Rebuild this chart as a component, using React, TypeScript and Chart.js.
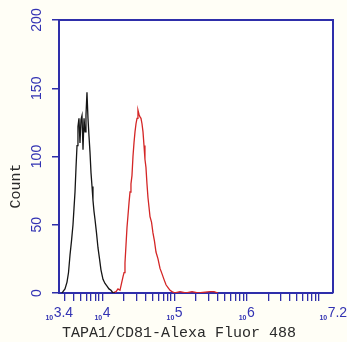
import React, { useEffect, useRef } from "react";
import { Chart, registerables } from "chart.js";

Chart.register(...registerables);

// Log10 fluorescence (channel position) and event counts
const isotypeLog = [3.44, 3.455, 3.483, 3.511, 3.532, 3.553, 3.573, 3.594, 3.608, 3.622, 3.636, 3.65, 3.663, 3.677, 3.691, 3.705, 3.719, 3.733, 3.747, 3.761, 3.774, 3.788, 3.802, 3.816, 3.83, 3.844, 3.858, 3.871, 3.885, 3.899, 3.92, 3.941, 3.962, 3.982, 4.01, 4.038, 4.066, 4.093, 4.121, 4.149, 4.177];
const isotypeCount = [0, 1, 3, 8, 15, 28, 38, 50, 62, 74, 92, 108, 122, 128, 110, 127, 130, 105, 128, 118, 130, 147, 128, 115, 103, 88, 78, 68, 60, 54, 44, 33, 25, 17, 10, 7, 5, 3, 2, 0, 0];

const sampleLog = [4.135, 4.191, 4.218, 4.246, 4.267, 4.288, 4.302, 4.315, 4.329, 4.343, 4.357, 4.371, 4.385, 4.398, 4.412, 4.426, 4.44, 4.454, 4.468, 4.482, 4.495, 4.509, 4.523, 4.537, 4.551, 4.565, 4.579, 4.592, 4.606, 4.62, 4.634, 4.648, 4.662, 4.683, 4.703, 4.724, 4.745, 4.773, 4.801, 4.829, 4.856, 4.884, 4.912, 4.94, 4.967, 5.009, 5.078, 5.161, 5.245, 5.328, 5.494, 5.55, 5.605];
const sampleCount = [0, 1, 3, 2, 7, 12, 15, 22, 35, 48, 57, 66, 74, 80, 86, 100, 110, 118, 124, 128, 134, 131, 129, 128, 124, 118, 108, 98, 92, 80, 70, 63, 56, 52, 44, 38, 30, 25, 18, 14, 10, 6, 4, 2, 1, 0, 1, 0, 1, 0, 1, 1, 0];

const yTickValues = [0, 50, 100, 150, 200];
const xLabelExponents = ["3.4", "4", "5", "6", "7.2"];
const xMin = 3.4;
const xMax = 7.2;
const xTitle = "TAPA1/CD81-Alexa Fluor 488";
const yTitle = "Count";

const AXIS = "#2e2eaa";
const LABEL = "#3333b3";

function minorLogTicks(): number[] {
  const out: number[] = [];
  for (let n = 3; n <= 7; n++) {
    for (let k = 1; k <= 9; k++) {
      const v = n + Math.log10(k);
      if (v > xMin + 0.01 && v < xMax - 0.01) out.push(v);
    }
  }
  return out;
}

const decorPlugin = {
  id: "decor",
  beforeDraw(chart: any) {
    const { ctx, chartArea: a } = chart;
    ctx.save();
    ctx.fillStyle = "#fffef6";
    ctx.fillRect(0, 0, chart.width, chart.height);
    ctx.fillStyle = "#ffffff";
    ctx.fillRect(a.left, a.top, a.right - a.left, a.bottom - a.top);
    ctx.restore();
  },
  afterDraw(chart: any) {
    const { ctx, chartArea: a, scales } = chart;
    const x = scales.x;
    const y = scales.y;
    ctx.save();
    // top and right frame
    ctx.strokeStyle = AXIS;
    ctx.lineWidth = 2;
    ctx.beginPath();
    ctx.moveTo(a.left, a.top);
    ctx.lineTo(a.right, a.top);
    ctx.lineTo(a.right, a.bottom);
    ctx.stroke();

    // y tick labels (rotated)
    ctx.fillStyle = LABEL;
    ctx.font = "14px 'Liberation Sans', Arial, sans-serif";
    ctx.textAlign = "center";
    ctx.textBaseline = "middle";
    yTickValues.forEach((v) => {
      const py = y.getPixelForValue(v);
      ctx.save();
      ctx.translate(37, py);
      ctx.rotate(-Math.PI / 2);
      ctx.fillText(String(v), 0, 0);
      ctx.restore();
    });

    // x tick labels: small "10" + larger exponent
    const baseFont = "bold 7px 'Liberation Sans', Arial, sans-serif";
    const expFont = "14px 'Liberation Sans', Arial, sans-serif";
    ctx.textAlign = "left";
    ctx.textBaseline = "alphabetic";
    xLabelExponents.forEach((e) => {
      const px = x.getPixelForValue(parseFloat(e));
      ctx.font = baseFont;
      const wb = ctx.measureText("10").width;
      ctx.font = expFont;
      const we = ctx.measureText(e).width;
      const start = px - (wb + we) / 2;
      ctx.font = baseFont;
      ctx.fillText("10", start, 320);
      ctx.font = expFont;
      ctx.fillText(e, start + wb + 0.5, 317);
    });

    // titles
    ctx.fillStyle = "#2a2a2a";
    ctx.font = "15px 'Liberation Mono', 'DejaVu Sans Mono', monospace";
    ctx.textAlign = "center";
    ctx.textBaseline = "middle";
    ctx.fillText(xTitle, 179, 333);
    ctx.save();
    ctx.translate(16, 186);
    ctx.rotate(-Math.PI / 2);
    ctx.fillText(yTitle, 0, 0);
    ctx.restore();
    ctx.restore();
  },
};

export default function App() {
  const ref = useRef<HTMLCanvasElement | null>(null);

  useEffect(() => {
    if (!ref.current) return;
    const chart = new Chart(ref.current, {
      type: "line",
      data: {
        datasets: [
          {
            label: "Isotype",
            data: isotypeLog.map((v, i) => ({ x: v, y: isotypeCount[i] })),
            borderColor: "#151515",
            borderWidth: 1.3,
            pointRadius: 0,
            tension: 0,
          },
          {
            label: "TAPA1/CD81",
            data: sampleLog.map((v, i) => ({ x: v, y: sampleCount[i] })),
            borderColor: "#d42626",
            borderWidth: 1.3,
            pointRadius: 0,
            tension: 0,
          },
        ],
      },
      options: {
        animation: false,
        responsive: false,
        layout: { padding: { top: 20, right: 14, left: 0, bottom: 0 } },
        plugins: { legend: { display: false }, tooltip: { enabled: false } },
        scales: {
          x: {
            type: "linear",
            min: xMin,
            max: xMax,
            afterBuildTicks: (s: any) => {
              s.ticks = minorLogTicks().map((v) => ({ value: v }));
            },
            afterFit: (s: any) => {
              s.height = 49;
            },
            grid: {
              drawOnChartArea: false,
              drawTicks: true,
              tickLength: 8,
              color: AXIS,
              lineWidth: 1.3,
            },
            border: { color: AXIS, width: 2 },
            ticks: { display: false },
          },
          y: {
            type: "linear",
            min: 0,
            max: 200,
            afterBuildTicks: (s: any) => {
              s.ticks = yTickValues.map((v) => ({ value: v }));
            },
            afterFit: (s: any) => {
              s.width = 59;
            },
            grid: {
              drawOnChartArea: false,
              drawTicks: true,
              tickLength: 7,
              color: AXIS,
              lineWidth: 1.5,
            },
            border: { color: AXIS, width: 2 },
            ticks: { display: false },
          },
        },
      },
      plugins: [decorPlugin],
    } as any);
    return () => chart.destroy();
  }, []);

  return (
    <div style={{ position: "fixed", left: 0, top: 0, width: 347, height: 342 }}>
      <canvas ref={ref} width={347} height={342} />
    </div>
  );
}
